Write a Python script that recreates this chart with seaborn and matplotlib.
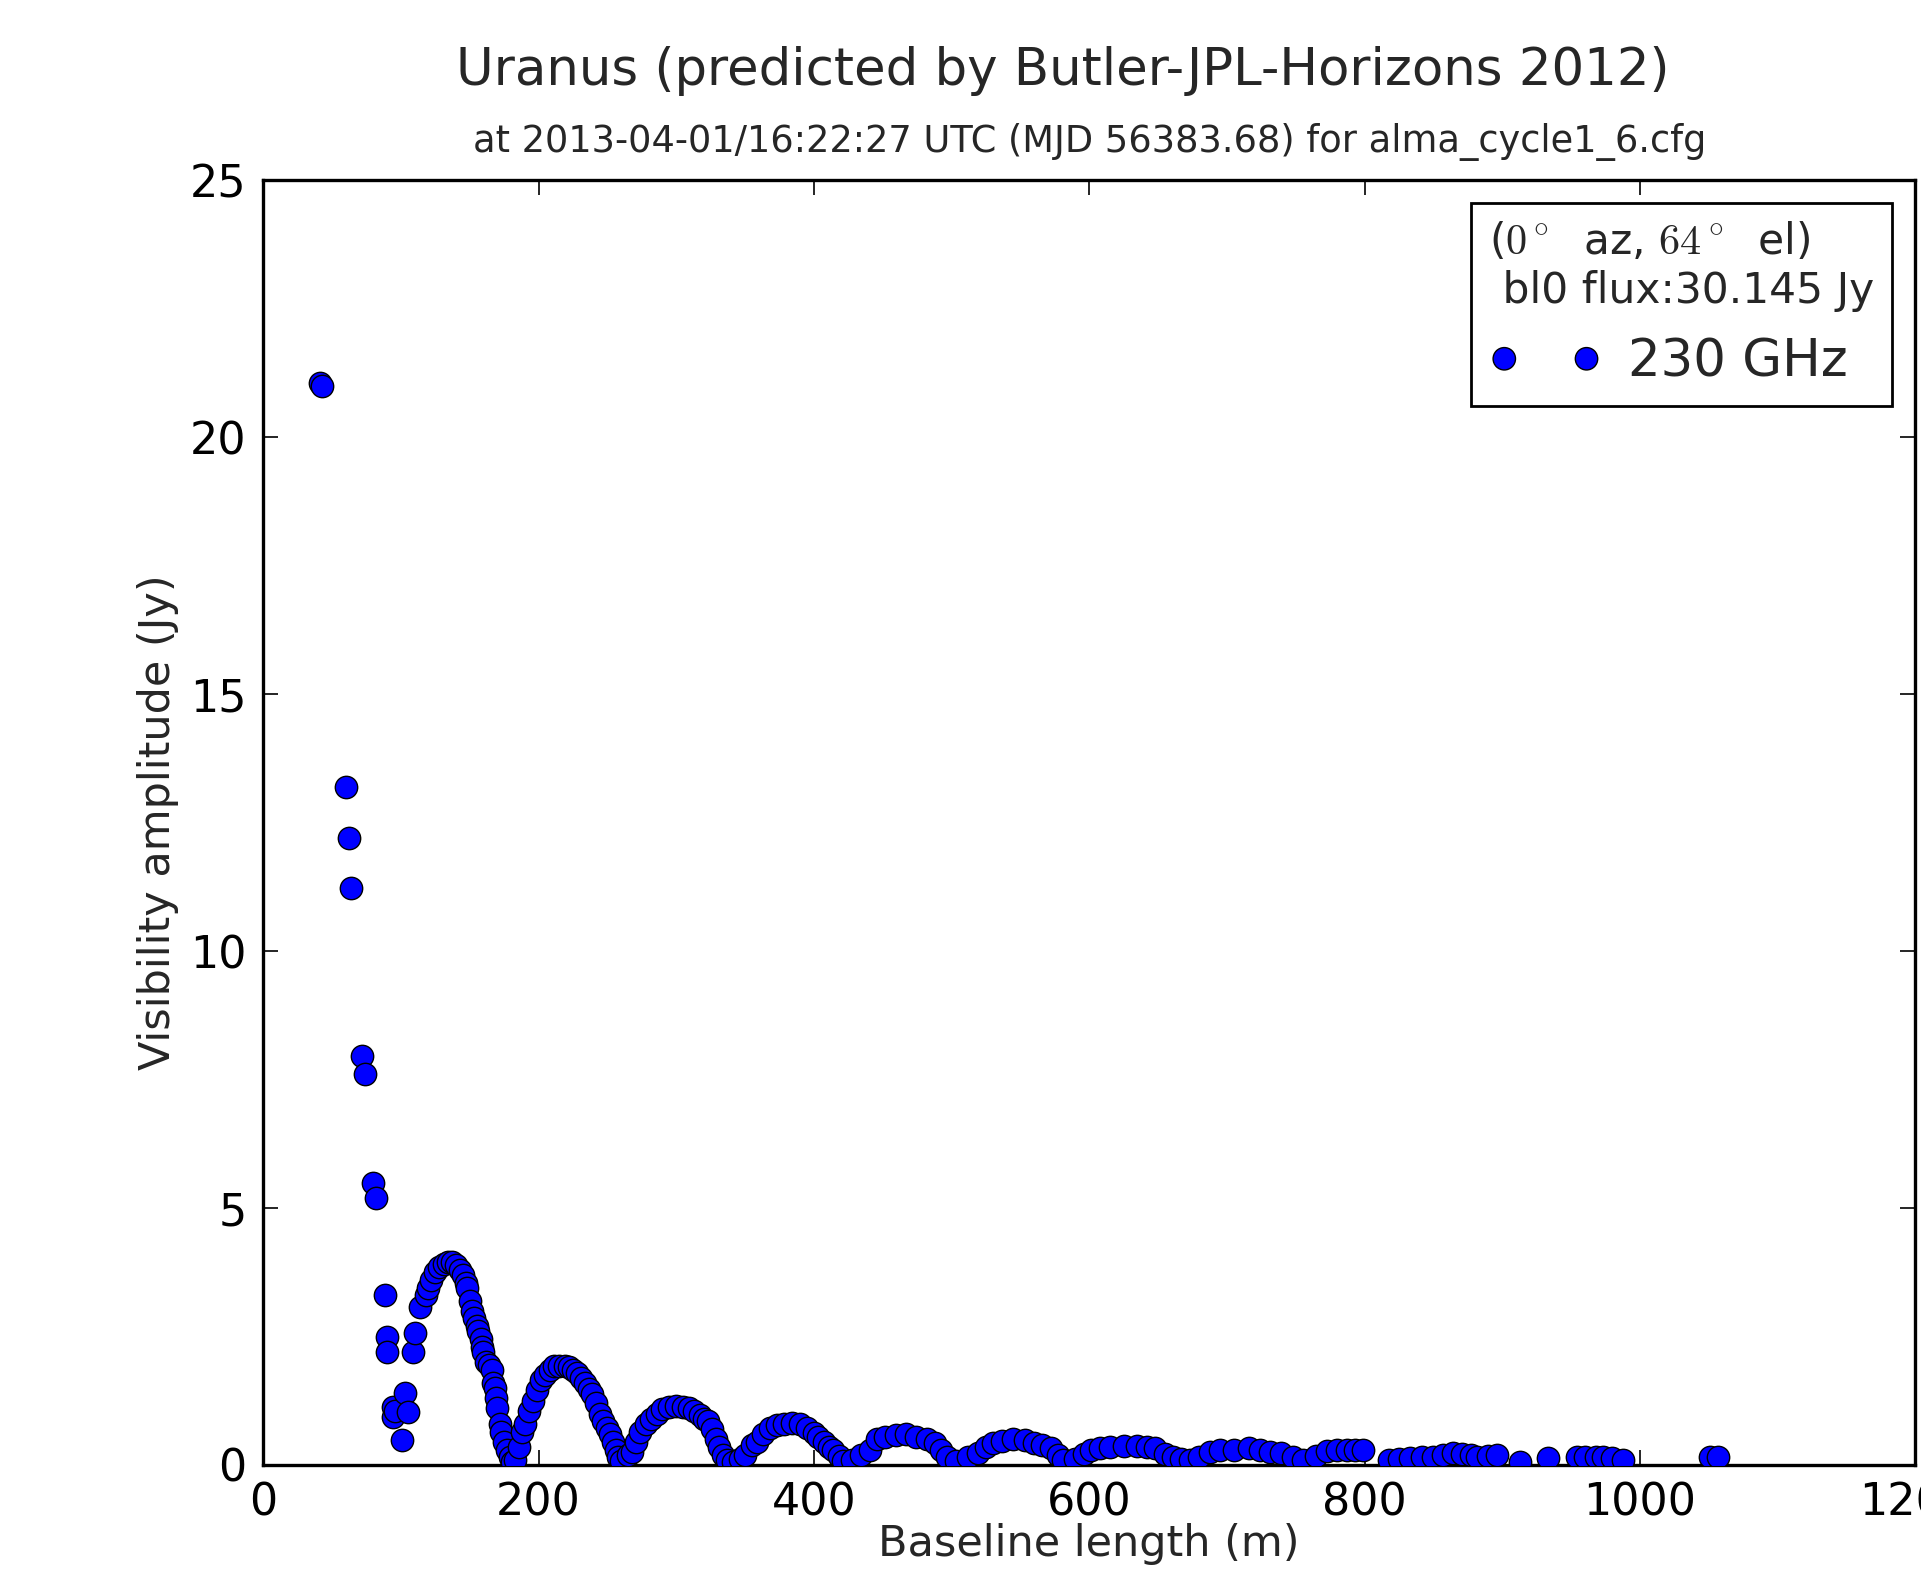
import matplotlib
matplotlib.use("Agg")
import matplotlib.pyplot as plt
import seaborn as sns
import pandas as pd

# baseline length (m) and visibility amplitude (Jy)
baseline_m = [
    41.5, 42.5, 60.5, 62.3, 64, 72, 74, 80, 82, 88.6, 90, 90, 94, 94.6, 96, 101, 103, 105, 109, 110, 114,
    118, 120, 122, 125, 128, 131, 134, 137, 140, 143, 145, 147, 148, 150, 152, 153, 155, 156, 158, 159,
    160, 162, 164, 166, 167, 168.5, 169, 170, 172, 173, 175, 177, 179, 181, 183,
    186, 188, 190, 193, 196, 199, 202, 205, 208, 211, 215, 219, 222, 225, 228, 231, 234, 237, 239, 242,
    245, 247, 250, 252, 254, 256, 258, 260, 265, 268, 271, 274, 278, 282, 286, 290, 295, 300, 305, 309,
    313, 317, 320, 323, 326, 329, 331, 334, 337, 341, 346, 350, 355, 359, 363, 368, 373, 378, 384, 390,
    395, 400, 403, 407, 411, 414, 418, 421, 428, 434, 441, 446, 452, 460, 467, 474, 482, 488, 492, 497,
    503, 512, 519, 525, 530, 537, 545, 553, 560, 566, 572, 577, 581, 590, 596, 601, 608, 615, 625, 635,
    642, 648, 655, 661, 667, 673, 680, 688, 695, 705, 716, 724, 731, 739, 748, 755, 765, 773, 780, 787,
    793, 799, 818, 825, 833, 842, 850, 857, 864, 871, 877, 882, 890, 896, 913, 933, 954, 960, 968, 973,
    980, 988, 1051, 1057,
]
amplitude_jy = [
    21.05, 21.0, 13.2, 12.2, 11.22, 7.96, 7.6, 5.48, 5.2, 3.3, 2.49, 2.2, 1.13, 0.93, 1.05, 0.49, 1.4, 1.03, 2.2, 2.57, 3.07,
    3.3, 3.45, 3.6, 3.75, 3.85, 3.92, 3.95, 3.95, 3.9, 3.8, 3.7, 3.55, 3.45, 3.2, 3.0, 2.85, 2.7, 2.6, 2.45, 2.3,
    2.2, 2.0, 1.95, 1.85, 1.6, 1.5, 1.3, 1.1, 0.8, 0.65, 0.45, 0.3, 0.15, 0.05, 0.1,
    0.35, 0.65, 0.8, 1.05, 1.25, 1.45, 1.65, 1.75, 1.85, 1.92, 1.93, 1.93, 1.9, 1.85, 1.78, 1.7, 1.6, 1.48, 1.38, 1.2,
    1.0, 0.85, 0.72, 0.6, 0.45, 0.3, 0.15, 0.08, 0.2, 0.25, 0.45, 0.65, 0.8, 0.9, 1.0, 1.08, 1.12, 1.15, 1.13, 1.1,
    1.05, 0.98, 0.9, 0.85, 0.7, 0.5, 0.35, 0.2, 0.1, 0.05, 0.12, 0.2, 0.38, 0.45, 0.6, 0.72, 0.78, 0.8, 0.82, 0.8,
    0.72, 0.62, 0.55, 0.45, 0.35, 0.3, 0.18, 0.08, 0.1, 0.2, 0.3, 0.5, 0.55, 0.58, 0.6, 0.55, 0.5, 0.42, 0.3, 0.15,
    0.08, 0.15, 0.23, 0.35, 0.42, 0.47, 0.5, 0.48, 0.42, 0.38, 0.32, 0.2, 0.1, 0.12, 0.22, 0.3, 0.33, 0.35, 0.36, 0.37,
    0.35, 0.32, 0.22, 0.15, 0.12, 0.1, 0.15, 0.25, 0.29, 0.3, 0.32, 0.3, 0.26, 0.23, 0.15, 0.1, 0.18, 0.28, 0.3, 0.29,
    0.3, 0.29, 0.1, 0.12, 0.13, 0.15, 0.16, 0.2, 0.23, 0.21, 0.2, 0.16, 0.18, 0.2, 0.06, 0.13, 0.16, 0.15, 0.16, 0.16,
    0.14, 0.1, 0.16, 0.16,
]
x_ticks = [0, 200, 400, 600, 800, 1000, 1200]
y_ticks = [0, 5, 10, 15, 20, 25]

df = pd.DataFrame({"baseline": baseline_m, "amp": amplitude_jy})

sns.set_style("white")
plt.rcParams["font.family"] = ["DejaVu Sans"]
plt.rcParams["mathtext.fontset"] = "cm"

fig = plt.figure(figsize=(19.21, 15.82), dpi=100)
ax = fig.add_axes([0.137, 0.074, 0.860, 0.812])

sns.scatterplot(data=df, x="baseline", y="amp", ax=ax, color="blue",
                edgecolor="black", linewidth=1.0, s=260, label="230 GHz", zorder=3)

ax.set_xlim(0, 1200)
ax.set_ylim(0, 25)
ax.set_xticks(x_ticks)
ax.set_yticks(y_ticks)
ax.tick_params(direction="in", length=11, width=1.2, labelsize=32, pad=12,
               top=True, right=True, bottom=True, left=True, colors="black")
ax.tick_params(axis="x", pad=12)
for sp in ax.spines.values():
    sp.set_color("black")
    sp.set_linewidth(2.4)

ax.set_xlabel("Baseline length (m)", fontsize=31, labelpad=-1)
ax.set_ylabel("Visibility amplitude (Jy)", fontsize=31, labelpad=8)

# title + subtitle
fig.text(0.553, 0.955, "Uranus (predicted by Butler-JPL-Horizons 2012)",
         ha="center", va="center", fontsize=37)
fig.text(0.567, 0.910, "at 2013-04-01/16:22:27 UTC (MJD 56383.68) for alma_cycle1_6.cfg",
         ha="center", va="center", fontsize=26.5)

leg = ax.legend(loc="upper right", scatterpoints=2, scatteryoffsets=[0.5, 0.5],
                fontsize=37,
                title="($0^\\circ$  az, $64^\\circ$  el)\n bl0 flux:30.145 Jy",
                title_fontsize=30.5, alignment="left", fancybox=False,
                framealpha=1, edgecolor="black", borderaxespad=0.45,
                handletextpad=0.5, borderpad=0.35, handlelength=2.2)
leg.get_frame().set_linewidth(2.0)

fig.savefig("out.png", dpi=100, facecolor="white")
